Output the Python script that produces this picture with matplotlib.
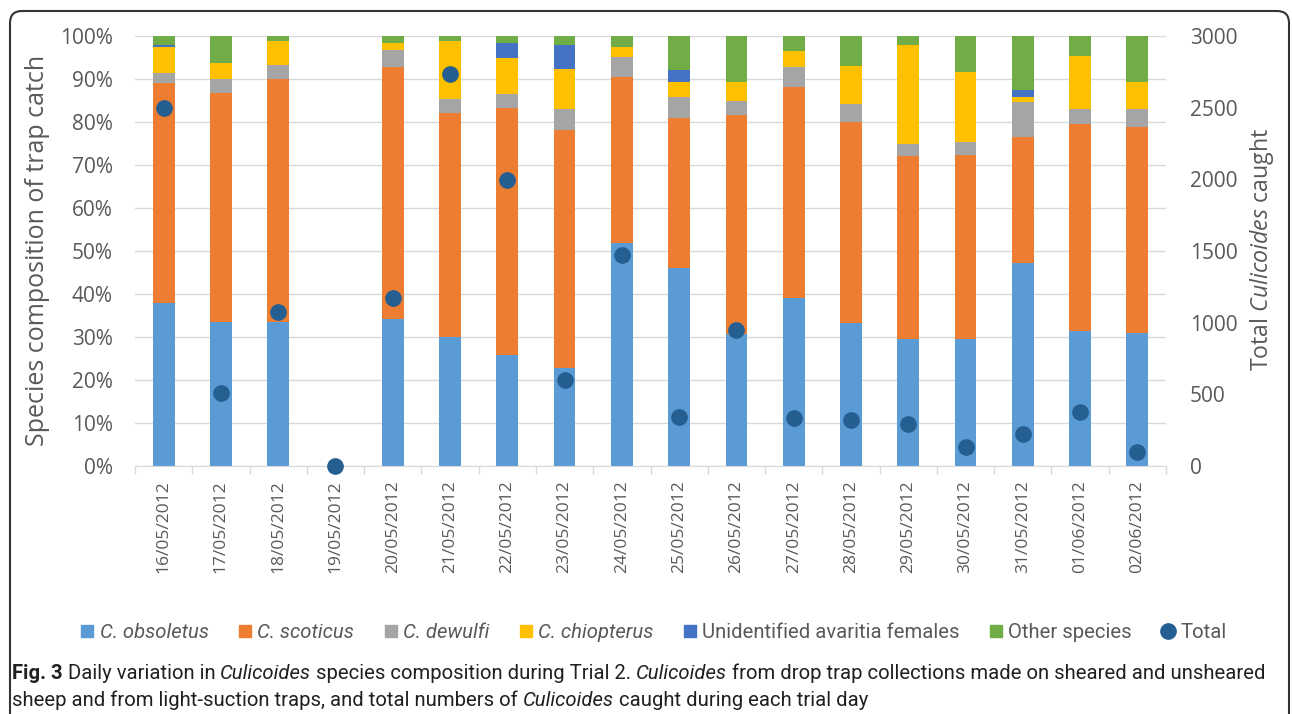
import matplotlib
matplotlib.use("Agg")
import matplotlib.pyplot as plt
import numpy as np
from matplotlib import font_manager
from matplotlib.lines import Line2D
from matplotlib.patches import FancyBboxPatch
from matplotlib.transforms import IdentityTransform

# ---- data ----
dates = ["16/05/2012", "17/05/2012", "18/05/2012", "19/05/2012", "20/05/2012",
         "21/05/2012", "22/05/2012", "23/05/2012", "24/05/2012", "25/05/2012",
         "26/05/2012", "27/05/2012", "28/05/2012", "29/05/2012", "30/05/2012",
         "31/05/2012", "01/06/2012", "02/06/2012"]
obsoletus    = [37.8, 33.4, 33.4, 0, 34.2, 30.1, 25.8, 22.9, 51.9, 46.0, 30.6, 39.1, 33.3, 29.5, 29.5, 47.1, 31.5, 30.9]
scoticus     = [51.3, 53.4, 56.6, 0, 58.7, 52.1, 57.4, 55.2, 38.6, 35.0, 51.0, 49.1, 46.8, 42.6, 42.8, 29.5, 48.0, 48.0]
dewulfi      = [2.4, 3.1, 3.3, 0, 3.8, 3.1, 3.3, 4.9, 4.7, 4.9, 3.3, 4.7, 4.0, 2.9, 3.0, 8.1, 3.5, 4.1]
chiopterus   = [6.0, 3.9, 5.5, 0, 1.7, 13.5, 8.5, 9.4, 2.2, 3.5, 4.3, 3.6, 8.9, 22.9, 16.4, 1.0, 12.3, 6.2]
unidentified = [0.5, 0, 0, 0, 0, 0, 3.4, 5.5, 0, 2.7, 0, 0, 0, 0, 0, 1.7, 0, 0]
other        = [2.0, 6.2, 1.2, 0, 1.6, 1.2, 1.6, 2.1, 2.6, 7.9, 10.8, 3.5, 7.0, 2.1, 8.3, 12.6, 4.7, 10.8]
totals       = [2500, 511, 1077, 0, 1174, 2737, 1995, 600, 1472, 344, 949, 337, 321, 291, 135, 221, 379, 100]

series_names = ["C. obsoletus", "C. scoticus", "C. dewulfi", "C. chiopterus",
                "Unidentified avaritia females", "Other species"]
series_colors = ["#5B9BD5", "#ED7D31", "#A5A5A5", "#FFC000", "#4472C4", "#70AD47"]
italic_names = [True, True, True, True, False, False]
total_color = "#255E91"


def has_font(family, style="normal"):
    fp = font_manager.FontProperties(family=family, style=style)
    try:
        path = font_manager.findfont(fp, fallback_to_default=False)
    except ValueError:
        return False
    if style == "italic" and "italic" not in path.split("/")[-1].lower():
        return False
    return True


CHART_FONT = "Open Sans" if has_font("Open Sans") else "DejaVu Sans"
CAP_FONT = "Roboto" if has_font("Roboto") else "DejaVu Sans"

plt.rcParams["font.family"] = CHART_FONT
plt.rcParams["mathtext.fontset"] = "custom"
plt.rcParams["mathtext.rm"] = CHART_FONT
plt.rcParams["mathtext.it"] = CHART_FONT + ":italic"

W, H = 1292, 714
grey_txt = "#595959"
grid_c = "#D9D9D9"

fig = plt.figure(figsize=(W / 100, H / 100), dpi=100)
ax = fig.add_axes([135 / W, 1 - 466 / H, (1166 - 135) / W, (466 - 36) / H])

x = np.arange(len(dates))
bottom = np.zeros(len(dates))
for vals, c in zip([obsoletus, scoticus, dewulfi, chiopterus, unidentified, other], series_colors):
    vals = np.array(vals, dtype=float)
    ax.bar(x, vals, 0.38, bottom=bottom, color=c, zorder=2)
    bottom += vals

ax.set_xlim(-0.5, len(dates) - 0.5)
ax.set_ylim(0, 100)
ax.set_yticks(np.arange(0, 101, 10))
ax.set_yticklabels([f"{v}%" for v in range(0, 101, 10)])
ax.tick_params(axis="y", length=0, pad=16, labelsize=15, labelcolor=grey_txt)
ax.set_xticks(x)
ax.set_xticklabels(dates, rotation=90)
ax.tick_params(axis="x", which="major", length=0, pad=10, labelsize=12.5, labelcolor=grey_txt)
ax.set_xticks(np.arange(-0.5, len(dates), 1), minor=True)
ax.tick_params(axis="x", which="minor", length=6, width=1, color=grid_c)
ax.grid(axis="y", color=grid_c, lw=1, zorder=0)
ax.set_axisbelow(True)
for s in ["left", "right", "top"]:
    ax.spines[s].set_visible(False)
ax.spines["bottom"].set_color(grid_c)

ax2 = ax.twinx()
ax2.plot(x, totals, "o", color=total_color, ms=11, zorder=5, clip_on=False)
ax2.set_ylim(0, 3000)
ax2.set_yticks(np.arange(0, 3001, 500))
ax2.tick_params(axis="y", length=0, pad=17, labelsize=15, labelcolor=grey_txt)
for s in ["left", "right", "top", "bottom"]:
    ax2.spines[s].set_visible(False)

fig.text(38 / W, 1 - 250 / H, "Species composition of trap catch", rotation=90,
         rotation_mode="anchor", ha="center", va="center", fontsize=18, color=grey_txt)
fig.text(1262 / W, 1 - 250 / H, r"Total $\mathit{Culicoides}$ caught", rotation=90,
         rotation_mode="anchor", ha="center", va="center", fontsize=16.7, color=grey_txt)

# legend, sized so it spans the same width as the original
handles = [Line2D([], [], marker="s", ls="none", color=c, ms=8.5) for c in series_colors]
handles.append(Line2D([], [], marker="o", ls="none", color=total_color, ms=11))


def make_legend(size):
    leg = fig.legend(handles, series_names + ["Total"], loc="center",
                     bbox_to_anchor=(653 / W, 1 - 633 / H), ncol=7, frameon=False,
                     prop={"family": CAP_FONT, "size": size}, handletextpad=0.2,
                     columnspacing=1.4, handlelength=0.8, borderpad=0)
    for t, it in zip(leg.get_texts(), italic_names + [False]):
        t.set_color(grey_txt)
        if it:
            t.set_fontstyle("italic")
    return leg


fig.canvas.draw()
renderer = fig.canvas.get_renderer()
leg_size = 14.5
for _ in range(2):
    leg = make_legend(leg_size)
    fig.canvas.draw()
    w = leg.get_window_extent(renderer).width
    leg.remove()
    leg_size *= 1150 / w
make_legend(leg_size)

# caption with mixed styles
cap_size = 14.6


def run_width(s, weight, style, size):
    t1 = fig.text(0, 0, "|" + s + "|", fontsize=size, family=CAP_FONT, weight=weight, style=style)
    t2 = fig.text(0, 0, "||", fontsize=size, family=CAP_FONT, weight=weight, style=style)
    w = t1.get_window_extent(renderer).width - t2.get_window_extent(renderer).width
    t1.remove()
    t2.remove()
    return w


def draw_runs(runs, x_px, y_px, size):
    xp = x_px
    for s, weight, style in runs:
        fig.text(xp / W, 1 - y_px / H, s, fontsize=size, family=CAP_FONT,
                 weight=weight, style=style, color="#231F20", ha="left", va="baseline")
        xp += run_width(s, weight, style, size)


line1 = [("Fig. 3", "bold", "normal"), (" Daily variation in ", "normal", "normal"),
         ("Culicoides", "normal", "italic"), (" species composition during Trial 2. ", "normal", "normal"),
         ("Culicoides", "normal", "italic"),
         (" from drop trap collections made on sheared and unsheared", "normal", "normal")]
line2 = [("sheep and from light-suction traps, and total numbers of ", "normal", "normal"),
         ("Culicoides", "normal", "italic"), (" caught during each trial day", "normal", "normal")]

w1 = sum(run_width(s, wt, st, cap_size) for s, wt, st in line1)
cap_size *= 1253 / w1
draw_runs(line1, 12, 679, cap_size)
draw_runs(line2, 12, 706, cap_size)

# rounded frame around the figure
fig.add_artist(FancyBboxPatch((10, -30), 1279, 733, boxstyle="round,pad=0,rounding_size=12",
                              fill=False, ec="#333333", lw=1.5, transform=IdentityTransform()))

fig.savefig("out.png", dpi=100)
